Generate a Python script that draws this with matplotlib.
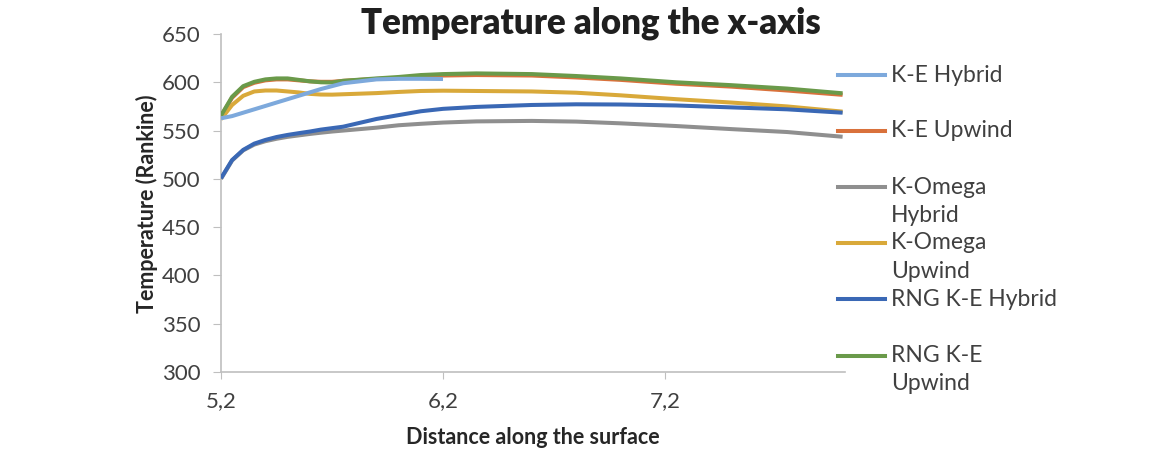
import matplotlib.pyplot as plt
import matplotlib
from matplotlib.lines import Line2D

matplotlib.rcParams['font.family'] = 'Lato'

W, H = 1164, 453

# distance along the surface
x = [5.2, 5.25, 5.3, 5.35, 5.4, 5.45, 5.5, 5.55, 5.6, 5.65, 5.7, 5.75,
     5.9, 6.0, 6.1, 6.2, 6.35, 6.6, 6.8, 7.0, 7.25, 7.5, 7.75, 8.0]

ke_hybrid = [562.7, 565, 568.5, 572, 575.5, 579, 582.5, 586, 589.5, 593, 596, 599,
             603, 603.6, 603.6, 603.4]
ke_upwind = [565, 584, 595, 599.5, 602, 603, 603, 602, 601, 600.5, 600.5, 601.5,
             603.5, 604.5, 606, 607, 607.5, 607, 605, 602.5, 598.5, 595.5, 591.5, 587]
kw_hybrid = [500, 519, 529.5, 535.5, 539, 541.5, 543.5, 545, 546.5, 547.8, 549, 550,
             553, 555.5, 557, 558.3, 559.5, 560, 559.3, 557.5, 554.7, 551.5, 548.5, 543.6]
kw_upwind = [561.7, 576.5, 586, 590.5, 591.5, 591.5, 590.5, 589.5, 588, 587.3, 587.2, 587.6,
             588.8, 590, 591, 591.3, 591, 590.5, 589.2, 586.5, 582.5, 579, 575, 569.6]
rng_hybrid = [500.6, 519.5, 530, 536.5, 540.3, 543.3, 545.5, 547.3, 549, 551, 552.5, 554,
              562, 566, 570, 572.5, 574.5, 576.5, 577.2, 577, 576, 574, 572, 568.5]
rng_upwind = [565.5, 585, 596, 600.5, 603, 604, 604, 602.5, 601, 600, 599.8, 601.5,
              604, 605.5, 607.5, 608.5, 609.2, 608.5, 606.5, 604, 600, 597, 593.5, 588.6]

labels = ['K-E Hybrid', 'K-E Upwind', 'K-Omega\nHybrid', 'K-Omega\nUpwind',
          'RNG K-E Hybrid', 'RNG K-E\nUpwind']
colors = ['#7DA9DC', '#D9713B', '#8F8F8F', '#D9A93A', '#3A68B5', '#6A9A4A']
series = [ke_hybrid, ke_upwind, kw_hybrid, kw_upwind, rng_hybrid, rng_upwind]
zorders = [8, 3, 4, 5, 6, 7]

xticks = [5.2, 6.2, 7.2]
xticklabels = ['5,2', '6,2', '7,2']

fig = plt.figure(figsize=(W / 100, H / 100), dpi=100)
ax = fig.add_axes([221 / W, 1 - 372 / H, 624 / W, 338 / H])

for y, c, z in zip(series, colors, zorders):
    ax.plot(x[:len(y)], y, color=c, lw=2.9, zorder=z, solid_capstyle='butt',
            solid_joinstyle='round')

ax.set_xlim(5.2, 5.2 + 624 / 222)
ax.set_ylim(300, 650)
ax.set_yticks(range(300, 651, 50))
ax.set_xticks(xticks)
ax.set_xticklabels(xticklabels)

for s in ['top', 'right']:
    ax.spines[s].set_visible(False)
for s in ['left', 'bottom']:
    ax.spines[s].set_color('#BFBFBF')
    ax.spines[s].set_linewidth(1.2)

ax.tick_params(axis='y', length=6, color='#BFBFBF', pad=9, labelsize=16, labelcolor='#404040')
ax.tick_params(axis='x', length=5, color='#BFBFBF', pad=9, labelsize=16, labelcolor='#404040')

fig.text(591 / W, 1 - 23 / H, 'Temperature along the x-axis', ha='center', va='center',
         fontsize=25, fontweight='heavy', color='#1F1F1F')
fig.text(147 / W, 1 - 204 / H, 'Temperature (Rankine)', rotation=90, ha='center', va='center',
         fontsize=15.5, fontweight='bold', color='#262626')
fig.text(533 / W, 1 - 438 / H, 'Distance along the surface', ha='center', va='center',
         fontsize=15.5, fontweight='bold', color='#262626')

# legend, drawn by hand to mimic the wrapped Excel entries
leg_y = [75, 131, 187, 243, 299, 356]
for lab, c, yy in zip(labels, colors, leg_y):
    fig.add_artist(Line2D([838 / W, 885 / W], [1 - yy / H, 1 - yy / H],
                          transform=fig.transFigure, color=c, lw=2.9))
    for i, part in enumerate(lab.split('\n')):
        fig.text(891 / W, 1 - (yy + i * 28) / H, part, ha='left', va='center',
                 fontsize=16.5, color='#404040')

fig.savefig('out.png', dpi=100)
